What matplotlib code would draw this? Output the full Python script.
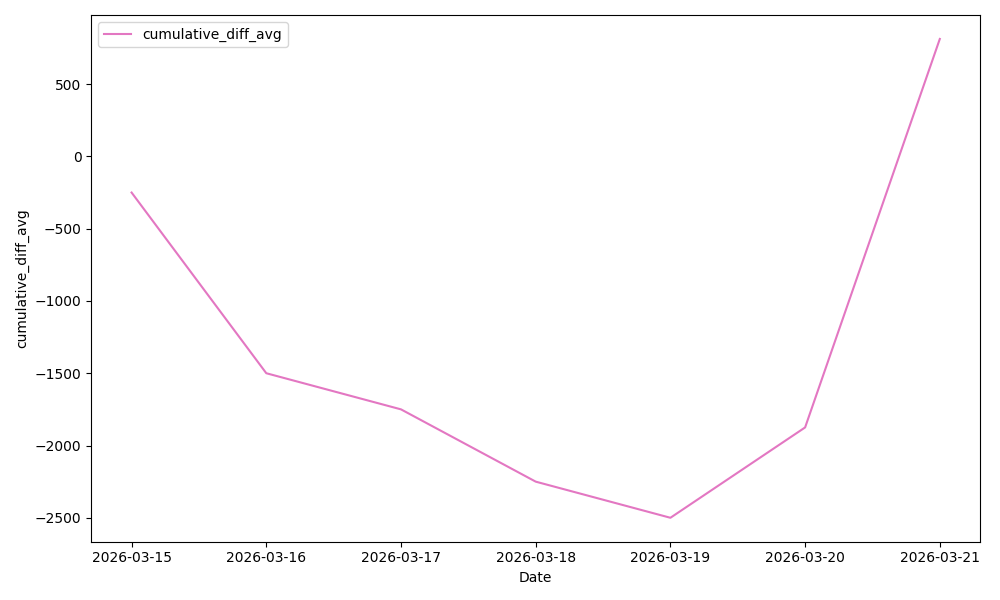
import pandas as pd
import matplotlib
matplotlib.use("Agg")
import matplotlib.pyplot as plt

# values
dates = ["2026-03-15", "2026-03-16", "2026-03-17", "2026-03-18",
         "2026-03-19", "2026-03-20", "2026-03-21"]
cumulative_diff_avg = [-250, -1500, -1750, -2250, -2500, -1875, 812.5]

df = pd.DataFrame({"Date": pd.to_datetime(dates),
                   "cumulative_diff_avg": cumulative_diff_avg})

fig, ax = plt.subplots(figsize=(10, 6), dpi=100)
ax.plot(df["Date"], df["cumulative_diff_avg"], color="#e377c2",
        label="cumulative_diff_avg")
ax.set_xticks(df["Date"])
ax.set_xticklabels(dates)
ax.set_xlabel("Date")
ax.set_ylabel("cumulative_diff_avg")
ax.legend(loc="upper left")

plt.tight_layout()
plt.savefig("out.png")
plt.close()
